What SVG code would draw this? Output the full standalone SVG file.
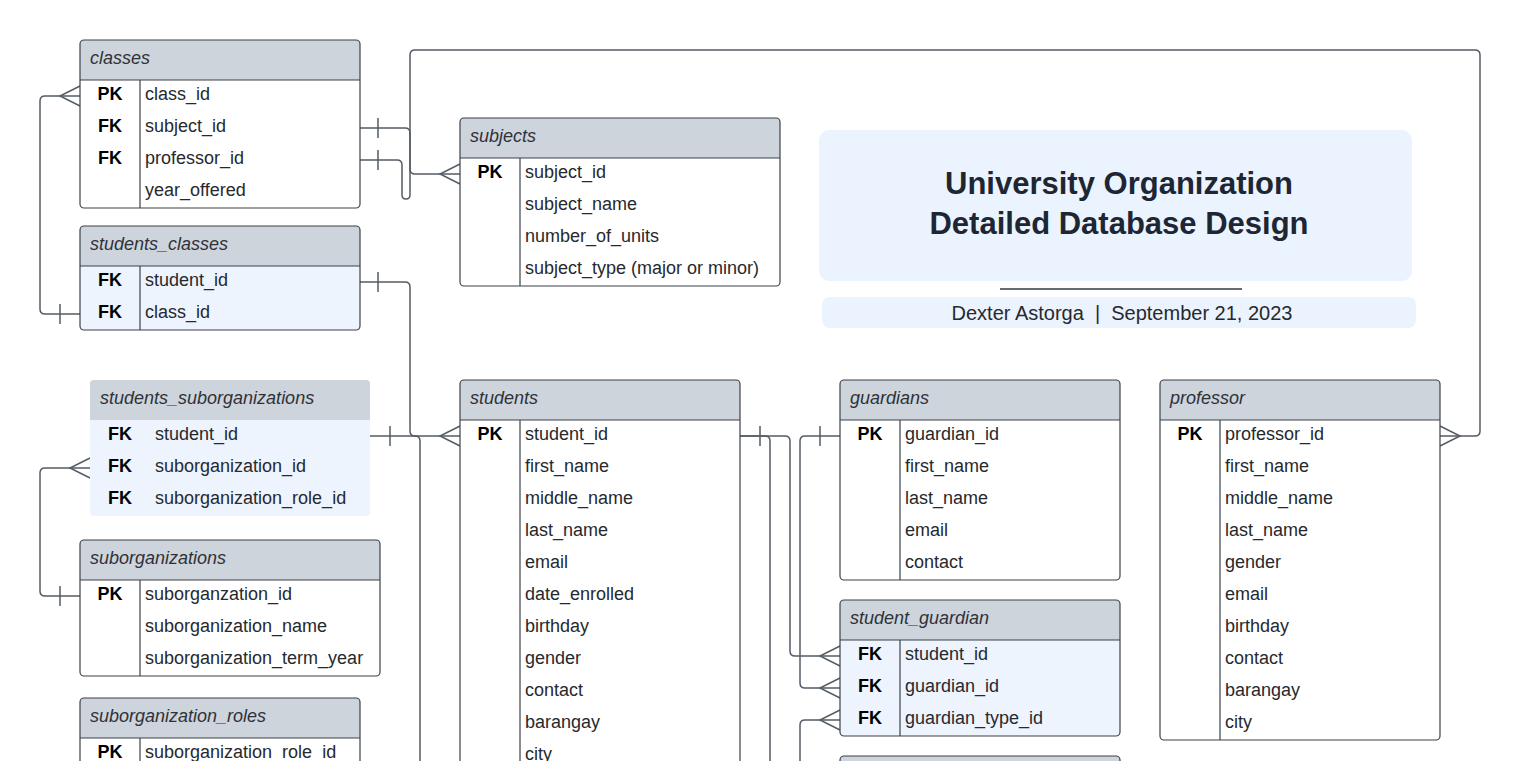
<svg xmlns="http://www.w3.org/2000/svg" width="1521" height="761" viewBox="0 0 1521 761">
<style>
.bg{fill:#ffffff}
.body{fill:#ffffff}
.bodyb{fill:#EDF4FE}
.hdr{fill:#CED4DC}
.brd{fill:none;stroke:#3C4149;stroke-width:1.2}
.ln{stroke:#3C4149;stroke-width:1.2}
.ht{font-family:"Liberation Sans",Arial,sans-serif;font-size:18px;font-style:italic;fill:#2E3238}
.ft{font-family:"Liberation Sans",Arial,sans-serif;font-size:18px;fill:#26292E}
.kt{font-family:"Liberation Sans",Arial,sans-serif;font-size:18px;font-weight:bold;fill:#000000;text-anchor:middle}
.cn{fill:none;stroke:#555C66;stroke-width:1.5}
.title{font-family:"Liberation Sans",Arial,sans-serif;font-size:31px;font-weight:bold;fill:#1F2633;text-anchor:middle}
.sub{font-family:"Liberation Sans",Arial,sans-serif;font-size:20px;fill:#26292E;text-anchor:middle;white-space:pre}
</style>
<rect class="bg" x="0" y="0" width="1521" height="761"/>

<g id="connectors">
  <path class="cn" d="M360,128 H405 Q410,128 410,133 V169 Q410,174 415,174 H460"/>
  <path class="cn" d="M378,118 V138 M460,164 L440,174 L460,184"/>
  <path class="cn" d="M360,160 H397 Q402,160 402,165 V195 Q402,199 406,199 Q410,199 410,195 V55 Q410,50 415,50 H1475 Q1480,50 1480,55 V431 Q1480,436 1475,436 H1440"/>
  <path class="cn" d="M378,150 V170 M1440,426 L1460,436 L1440,446"/>
  <path class="cn" d="M80,314 H45 Q40,314 40,309 V101 Q40,96 45,96 H80"/>
  <path class="cn" d="M60,304 V324 M80,86 L60,96 L80,106"/>
  <path class="cn" d="M360,282 H405 Q410,282 410,287 V431 Q410,436 415,436 H460"/>
  <path class="cn" d="M378,272 V292 M460,426 L440,436 L460,446"/>
  <path class="cn" d="M370,436 H415 Q420,436 420,441 V761"/>
  <path class="cn" d="M390,426 V446"/>
  <path class="cn" d="M80,596 H45 Q40,596 40,591 V473 Q40,468 45,468 H90"/>
  <path class="cn" d="M60,586 V606 M90,458 L70,468 L90,478"/>
  <path class="cn" d="M740,436 H785 Q790,436 790,441 V651 Q790,656 795,656 H840"/>
  <path class="cn" d="M760,426 V446 M840,646 L820,656 L840,666"/>
  <path class="cn" d="M740,436 H765 Q770,436 770,441 V761"/>
  <path class="cn" d="M840,436 H805 Q800,436 800,441 V683 Q800,688 805,688 H840"/>
  <path class="cn" d="M820,426 V446 M840,678 L820,688 L840,698"/>
  <path class="cn" d="M800,761 V725 Q800,720 805,720 H840"/>
  <path class="cn" d="M840,710 L820,720 L840,730"/>
</g>

<g id="title">
  <rect x="819" y="130" width="593" height="151" rx="10" fill="#EBF3FE"/>
  <text class="title" x="1119" y="194">University Organization</text>
  <text class="title" x="1119" y="234">Detailed Database Design</text>
  <line x1="1000" y1="289" x2="1242" y2="289" stroke="#333A44" stroke-width="1.3"/>
  <rect x="822" y="297" width="594" height="31" rx="8" fill="#EBF3FE"/>
  <text class="sub" x="1122" y="320" xml:space="preserve">Dexter Astorga  |  September 21, 2023</text>
</g>

<g id="classes">
  <rect class="body" x="80" y="40" width="280" height="168" rx="4"/>
  <path class="hdr" d="M80,80 V44 Q80,40 84,40 H356 Q360,40 360,44 V80 Z"/>
  <rect class="brd" x="80" y="40" width="280" height="168" rx="4"/>
  <line class="ln" x1="80" y1="80" x2="360" y2="80"/>
  <line class="ln" x1="140" y1="80" x2="140" y2="208"/>
  <text class="ht" x="90" y="64">classes</text>
  <text class="kt" x="110" y="100">PK</text><text class="ft" x="145" y="100">class_id</text>
  <text class="kt" x="110" y="132">FK</text><text class="ft" x="145" y="132">subject_id</text>
  <text class="kt" x="110" y="164">FK</text><text class="ft" x="145" y="164">professor_id</text>
  <text class="ft" x="145" y="196">year_offered</text>
</g>

<g id="students_classes">
  <rect class="bodyb" x="80" y="226" width="280" height="104" rx="4"/>
  <path class="hdr" d="M80,266 V230 Q80,226 84,226 H356 Q360,226 360,230 V266 Z"/>
  <rect class="brd" x="80" y="226" width="280" height="104" rx="4"/>
  <line class="ln" x1="80" y1="266" x2="360" y2="266"/>
  <line class="ln" x1="140" y1="266" x2="140" y2="330"/>
  <text class="ht" x="90" y="250">students_classes</text>
  <text class="kt" x="110" y="286">FK</text><text class="ft" x="145" y="286">student_id</text>
  <text class="kt" x="110" y="318">FK</text><text class="ft" x="145" y="318">class_id</text>
</g>

<g id="subjects">
  <rect class="body" x="460" y="118" width="320" height="168" rx="4"/>
  <path class="hdr" d="M460,158 V122 Q460,118 464,118 H776 Q780,118 780,122 V158 Z"/>
  <rect class="brd" x="460" y="118" width="320" height="168" rx="4"/>
  <line class="ln" x1="460" y1="158" x2="780" y2="158"/>
  <line class="ln" x1="520" y1="158" x2="520" y2="286"/>
  <text class="ht" x="470" y="142">subjects</text>
  <text class="kt" x="490" y="178">PK</text><text class="ft" x="525" y="178">subject_id</text>
  <text class="ft" x="525" y="210">subject_name</text>
  <text class="ft" x="525" y="242">number_of_units</text>
  <text class="ft" x="525" y="274">subject_type (major or minor)</text>
</g>

<g id="students_suborganizations">
  <rect class="bodyb" x="90" y="380" width="280" height="136" rx="4"/>
  <path class="hdr" d="M90,420 V384 Q90,380 94,380 H366 Q370,380 370,384 V420 Z"/>
  <text class="ht" x="100" y="404">students_suborganizations</text>
  <text class="kt" x="120" y="440">FK</text><text class="ft" x="155" y="440">student_id</text>
  <text class="kt" x="120" y="472">FK</text><text class="ft" x="155" y="472">suborganization_id</text>
  <text class="kt" x="120" y="504">FK</text><text class="ft" x="155" y="504">suborganization_role_id</text>
</g>

<g id="suborganizations">
  <rect class="body" x="80" y="540" width="300" height="136" rx="4"/>
  <path class="hdr" d="M80,580 V544 Q80,540 84,540 H376 Q380,540 380,544 V580 Z"/>
  <rect class="brd" x="80" y="540" width="300" height="136" rx="4"/>
  <line class="ln" x1="80" y1="580" x2="380" y2="580"/>
  <line class="ln" x1="140" y1="580" x2="140" y2="676"/>
  <text class="ht" x="90" y="564">suborganizations</text>
  <text class="kt" x="110" y="600">PK</text><text class="ft" x="145" y="600">suborganzation_id</text>
  <text class="ft" x="145" y="632">suborganization_name</text>
  <text class="ft" x="145" y="664">suborganization_term_year</text>
</g>

<g id="suborganization_roles">
  <rect class="body" x="80" y="698" width="280" height="100" rx="4"/>
  <path class="hdr" d="M80,738 V702 Q80,698 84,698 H356 Q360,698 360,702 V738 Z"/>
  <rect class="brd" x="80" y="698" width="280" height="100" rx="4"/>
  <line class="ln" x1="80" y1="738" x2="360" y2="738"/>
  <line class="ln" x1="140" y1="738" x2="140" y2="798"/>
  <text class="ht" x="90" y="722">suborganization_roles</text>
  <text class="kt" x="110" y="758">PK</text><text class="ft" x="145" y="758">suborganization_role_id</text>
</g>

<g id="students">
  <rect class="body" x="460" y="380" width="280" height="400" rx="4"/>
  <path class="hdr" d="M460,420 V384 Q460,380 464,380 H736 Q740,380 740,384 V420 Z"/>
  <rect class="brd" x="460" y="380" width="280" height="400" rx="4"/>
  <line class="ln" x1="460" y1="420" x2="740" y2="420"/>
  <line class="ln" x1="520" y1="420" x2="520" y2="780"/>
  <text class="ht" x="470" y="404">students</text>
  <text class="kt" x="490" y="440">PK</text><text class="ft" x="525" y="440">student_id</text>
  <text class="ft" x="525" y="472">first_name</text>
  <text class="ft" x="525" y="504">middle_name</text>
  <text class="ft" x="525" y="536">last_name</text>
  <text class="ft" x="525" y="568">email</text>
  <text class="ft" x="525" y="600">date_enrolled</text>
  <text class="ft" x="525" y="632">birthday</text>
  <text class="ft" x="525" y="664">gender</text>
  <text class="ft" x="525" y="696">contact</text>
  <text class="ft" x="525" y="728">barangay</text>
  <text class="ft" x="525" y="760">city</text>
</g>

<g id="guardians">
  <rect class="body" x="840" y="380" width="280" height="200" rx="4"/>
  <path class="hdr" d="M840,420 V384 Q840,380 844,380 H1116 Q1120,380 1120,384 V420 Z"/>
  <rect class="brd" x="840" y="380" width="280" height="200" rx="4"/>
  <line class="ln" x1="840" y1="420" x2="1120" y2="420"/>
  <line class="ln" x1="900" y1="420" x2="900" y2="580"/>
  <text class="ht" x="850" y="404">guardians</text>
  <text class="kt" x="870" y="440">PK</text><text class="ft" x="905" y="440">guardian_id</text>
  <text class="ft" x="905" y="472">first_name</text>
  <text class="ft" x="905" y="504">last_name</text>
  <text class="ft" x="905" y="536">email</text>
  <text class="ft" x="905" y="568">contact</text>
</g>

<g id="student_guardian">
  <rect class="bodyb" x="840" y="600" width="280" height="136" rx="4"/>
  <path class="hdr" d="M840,640 V604 Q840,600 844,600 H1116 Q1120,600 1120,604 V640 Z"/>
  <rect class="brd" x="840" y="600" width="280" height="136" rx="4"/>
  <line class="ln" x1="840" y1="640" x2="1120" y2="640"/>
  <line class="ln" x1="900" y1="640" x2="900" y2="736"/>
  <text class="ht" x="850" y="624">student_guardian</text>
  <text class="kt" x="870" y="660">FK</text><text class="ft" x="905" y="660">student_id</text>
  <text class="kt" x="870" y="692">FK</text><text class="ft" x="905" y="692">guardian_id</text>
  <text class="kt" x="870" y="724">FK</text><text class="ft" x="905" y="724">guardian_type_id</text>
</g>

<g id="table_below_student_guardian">
  <path class="hdr" d="M840,800 V760 Q840,756 844,756 H1116 Q1120,756 1120,760 V800 Z"/>
  <rect class="brd" x="840" y="756" width="280" height="60" rx="4"/>
</g>

<g id="professor">
  <rect class="body" x="1160" y="380" width="280" height="360" rx="4"/>
  <path class="hdr" d="M1160,420 V384 Q1160,380 1164,380 H1436 Q1440,380 1440,384 V420 Z"/>
  <rect class="brd" x="1160" y="380" width="280" height="360" rx="4"/>
  <line class="ln" x1="1160" y1="420" x2="1440" y2="420"/>
  <line class="ln" x1="1220" y1="420" x2="1220" y2="740"/>
  <text class="ht" x="1170" y="404">professor</text>
  <text class="kt" x="1190" y="440">PK</text><text class="ft" x="1225" y="440">professor_id</text>
  <text class="ft" x="1225" y="472">first_name</text>
  <text class="ft" x="1225" y="504">middle_name</text>
  <text class="ft" x="1225" y="536">last_name</text>
  <text class="ft" x="1225" y="568">gender</text>
  <text class="ft" x="1225" y="600">email</text>
  <text class="ft" x="1225" y="632">birthday</text>
  <text class="ft" x="1225" y="664">contact</text>
  <text class="ft" x="1225" y="696">barangay</text>
  <text class="ft" x="1225" y="728">city</text>
</g>
</svg>
